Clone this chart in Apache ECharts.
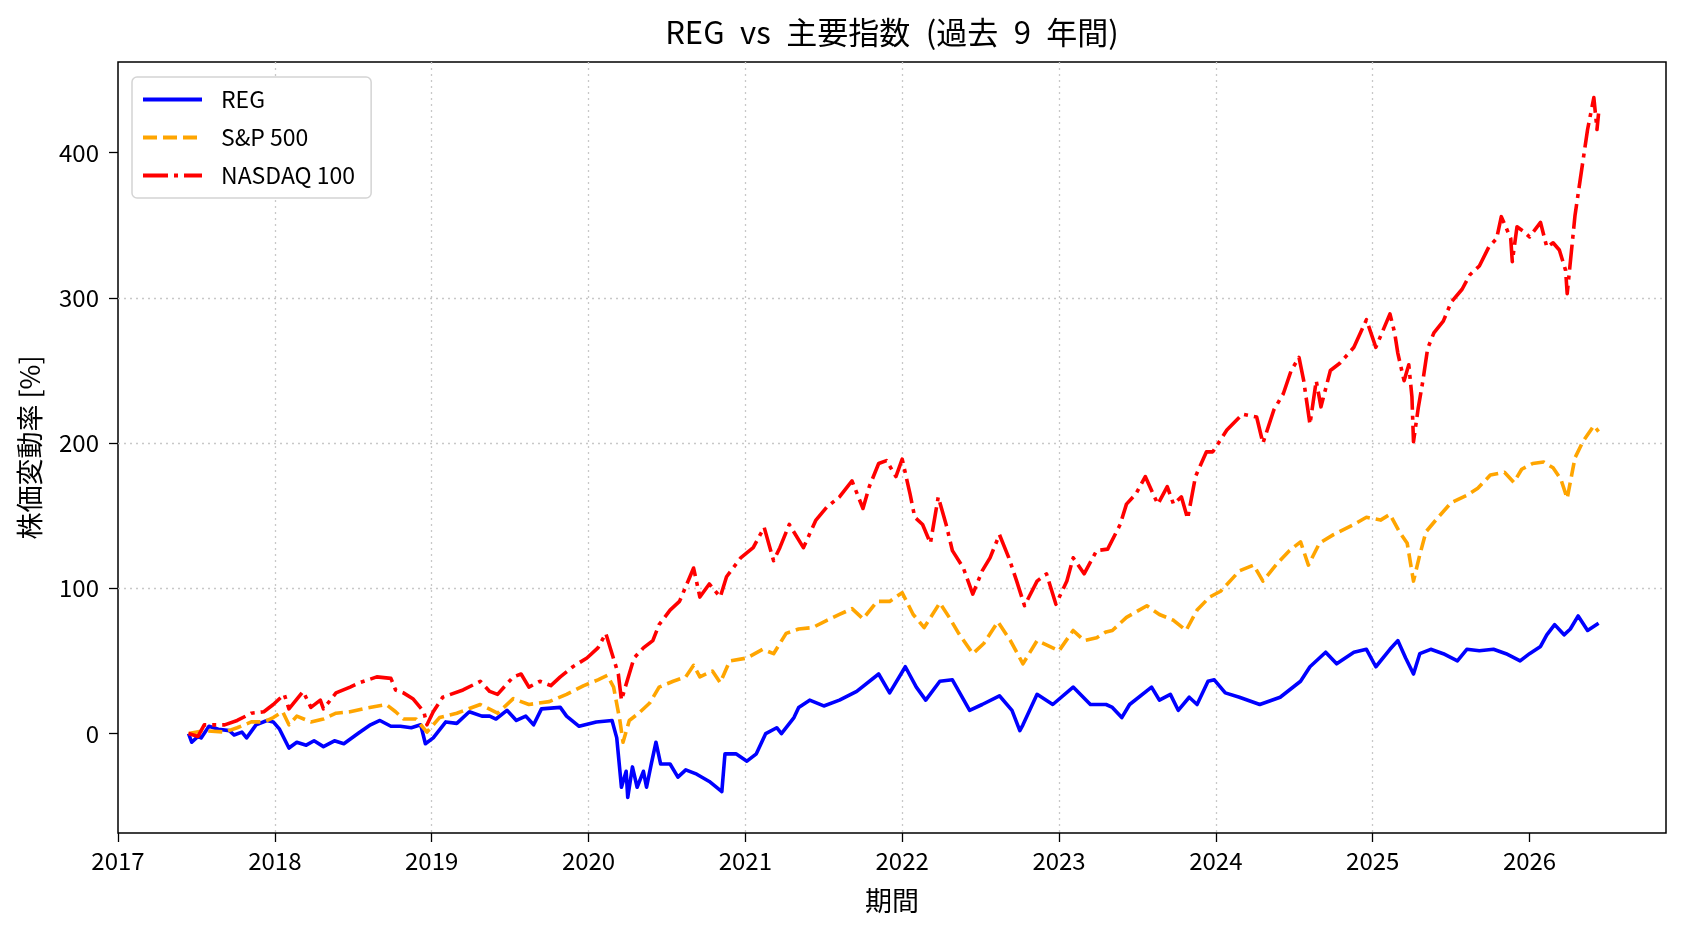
<!DOCTYPE html>
<html>
<head>
<meta charset="utf-8">
<script src="https://cdn.jsdelivr.net/npm/echarts@6/dist/echarts.min.js"></script>
<style>
  html, body { margin: 0; padding: 0; background: #fff; }
  #chart { width: 1688px; height: 932px; }
</style>
</head>
<body>
<div id="chart"></div>
<script>
var FONT = "'Noto Sans CJK JP', sans-serif";

// en-spaces so the spacing looks like the original half-width font
var titleText = 'REG\u2002vs\u2002主要指数\u2002(過去\u20029\u2002年間)';
var seriesNames = ['REG', 'S&P 500', 'NASDAQ 100'];
var yearTicks = [2017, 2018, 2019, 2020, 2021, 2022, 2023, 2024, 2025, 2026];
var pctTicks = [0, 100, 200, 300, 400];

// [year, % change]
var regPts = [
  [2017.45,0],[2017.47,-6],[2017.51,-2],[2017.53,-3],[2017.58,5],[2017.64,3],[2017.71,2],[2017.74,-1],
  [2017.79,1],[2017.82,-3],[2017.88,6],[2017.95,9],[2017.99,8],[2018.03,3],[2018.09,-10],[2018.14,-6],
  [2018.2,-8],[2018.25,-5],[2018.31,-9],[2018.38,-5],[2018.44,-7],[2018.53,0],[2018.61,6],[2018.67,9],
  [2018.74,5],[2018.8,5],[2018.87,4],[2018.93,6],[2018.96,-7],[2019.01,-3],[2019.09,8],[2019.16,7],
  [2019.24,15],[2019.32,12],[2019.37,12],[2019.41,10],[2019.48,16],[2019.54,9],[2019.6,12],[2019.65,6],
  [2019.7,17],[2019.82,18],[2019.86,12],[2019.94,5],[2020.05,8],[2020.15,9],[2020.18,-3],[2020.21,-37],
  [2020.24,-26],[2020.25,-44],[2020.28,-23],[2020.31,-37],[2020.35,-26],[2020.37,-37],[2020.4,-21],[2020.43,-6],
  [2020.46,-21],[2020.52,-21],[2020.57,-30],[2020.62,-25],[2020.69,-28],[2020.77,-33],[2020.85,-40],[2020.87,-14],
  [2020.94,-14],[2021.01,-19],[2021.07,-14],[2021.13,0],[2021.2,4],[2021.23,0],[2021.31,11],[2021.34,18],
  [2021.41,23],[2021.5,19],[2021.6,23],[2021.71,29],[2021.85,41],[2021.92,28],[2022.02,46],[2022.09,32],
  [2022.15,23],[2022.24,36],[2022.32,37],[2022.43,16],[2022.51,20],[2022.62,26],[2022.7,16],[2022.75,2],
  [2022.77,6],[2022.86,27],[2022.96,20],[2023.09,32],[2023.2,20],[2023.3,20],[2023.34,18],[2023.4,11],
  [2023.45,20],[2023.59,32],[2023.64,23],[2023.71,27],[2023.76,16],[2023.83,25],[2023.88,20],[2023.95,36],
  [2023.99,37],[2024.06,28],[2024.15,25],[2024.28,20],[2024.41,25],[2024.54,36],[2024.6,46],[2024.7,56],
  [2024.77,48],[2024.88,56],[2024.96,58],[2025.02,46],[2025.11,58],[2025.16,64],[2025.21,52],[2025.26,41],
  [2025.3,55],[2025.37,58],[2025.45,55],[2025.54,50],[2025.6,58],[2025.68,57],[2025.77,58],[2025.85,55],
  [2025.94,50],[2026.0,55],[2026.07,60],[2026.11,68],[2026.16,75],[2026.22,68],[2026.26,72],[2026.31,81],
  [2026.37,71],[2026.44,76]
];

var spPts = [
  [2017.45,0],[2017.55,2],[2017.68,1],[2017.76,4],[2017.85,8],[2017.93,8],[2017.99,11],[2018.05,15],
  [2018.09,6],[2018.14,12],[2018.23,8],[2018.31,10],[2018.39,14],[2018.48,15],[2018.56,17],[2018.71,20],
  [2018.77,15],[2018.82,10],[2018.9,10],[2018.97,1],[2019.05,11],[2019.16,14],[2019.31,20],[2019.42,14],
  [2019.52,24],[2019.62,20],[2019.75,22],[2019.86,27],[2019.97,33],[2020.06,37],[2020.12,40],[2020.16,32],
  [2020.2,9],[2020.22,-6],[2020.26,9],[2020.32,14],[2020.39,21],[2020.45,32],[2020.54,36],[2020.62,39],
  [2020.67,47],[2020.71,39],[2020.79,43],[2020.84,35],[2020.9,50],[2021.01,52],[2021.11,58],[2021.18,55],
  [2021.26,69],[2021.34,72],[2021.43,73],[2021.52,78],[2021.6,82],[2021.68,86],[2021.75,79],[2021.84,91],
  [2021.92,91],[2022.0,97],[2022.07,82],[2022.14,73],[2022.24,90],[2022.3,80],[2022.36,69],[2022.45,55],
  [2022.52,62],[2022.61,77],[2022.69,64],[2022.77,48],[2022.86,64],[2022.96,59],[2023.0,57],[2023.09,71],
  [2023.16,64],[2023.24,66],[2023.3,70],[2023.34,71],[2023.43,80],[2023.56,88],[2023.64,82],[2023.73,78],
  [2023.81,71],[2023.88,85],[2023.96,94],[2024.03,98],[2024.15,112],[2024.24,116],[2024.3,105],[2024.39,117],
  [2024.47,126],[2024.54,132],[2024.59,116],[2024.66,131],[2024.75,137],[2024.88,144],[2024.96,149],[2025.05,147],
  [2025.11,151],[2025.17,139],[2025.22,131],[2025.26,105],[2025.3,123],[2025.34,139],[2025.41,148],[2025.5,159],
  [2025.6,164],[2025.67,169],[2025.75,178],[2025.84,180],[2025.9,173],[2025.95,182],[2026.02,186],[2026.09,187],
  [2026.15,183],[2026.2,175],[2026.24,162],[2026.29,190],[2026.34,201],[2026.41,212],[2026.44,208]
];

var ndxPts = [
  [2017.45,0],[2017.51,-2],[2017.55,6],[2017.68,6],[2017.76,9],[2017.85,14],[2017.93,15],[2017.99,20],
  [2018.06,27],[2018.09,17],[2018.18,29],[2018.23,18],[2018.29,23],[2018.31,17],[2018.39,28],[2018.48,32],
  [2018.54,35],[2018.65,39],[2018.74,38],[2018.77,30],[2018.82,28],[2018.88,24],[2018.95,15],[2018.97,6],
  [2019.01,15],[2019.07,25],[2019.2,30],[2019.31,36],[2019.37,29],[2019.42,27],[2019.52,39],[2019.57,41],
  [2019.62,32],[2019.69,36],[2019.76,33],[2019.82,39],[2019.9,46],[2019.99,52],[2020.06,59],[2020.11,69],
  [2020.15,55],[2020.19,41],[2020.21,23],[2020.24,34],[2020.29,52],[2020.35,59],[2020.41,64],[2020.45,75],
  [2020.52,85],[2020.58,91],[2020.67,114],[2020.71,94],[2020.77,103],[2020.84,94],[2020.88,108],[2020.97,121],
  [2021.05,128],[2021.12,142],[2021.18,119],[2021.22,128],[2021.28,144],[2021.37,128],[2021.45,147],[2021.52,156],
  [2021.6,163],[2021.68,174],[2021.75,155],[2021.79,170],[2021.85,186],[2021.9,188],[2021.96,177],[2022.0,189],
  [2022.05,165],[2022.08,149],[2022.13,144],[2022.18,131],[2022.23,163],[2022.28,144],[2022.32,126],[2022.39,114],
  [2022.45,96],[2022.51,112],[2022.56,121],[2022.62,137],[2022.68,121],[2022.73,105],[2022.78,88],[2022.86,105],
  [2022.92,110],[2022.98,89],[2023.05,105],[2023.09,121],[2023.16,110],[2023.24,126],[2023.31,127],[2023.39,144],
  [2023.43,158],[2023.49,165],[2023.55,177],[2023.6,165],[2023.63,158],[2023.69,170],[2023.73,158],[2023.78,163],
  [2023.82,148],[2023.87,177],[2023.94,194],[2023.98,194],[2024.07,209],[2024.17,220],[2024.26,218],[2024.3,200],
  [2024.37,223],[2024.43,234],[2024.48,250],[2024.53,259],[2024.56,243],[2024.6,213],[2024.64,243],[2024.67,225],
  [2024.73,250],[2024.79,255],[2024.88,266],[2024.96,285],[2025.02,266],[2025.11,289],[2025.14,276],[2025.16,262],
  [2025.2,243],[2025.23,254],[2025.25,232],[2025.26,201],[2025.29,224],[2025.32,243],[2025.35,265],[2025.39,276],
  [2025.45,284],[2025.5,297],[2025.57,306],[2025.62,316],[2025.68,322],[2025.74,335],[2025.79,341],[2025.82,356],
  [2025.88,341],[2025.89,325],[2025.92,349],[2025.96,346],[2026.0,342],[2026.07,352],[2026.11,335],[2026.15,338],
  [2026.19,333],[2026.23,319],[2026.24,303],[2026.29,357],[2026.34,394],[2026.37,416],[2026.41,438],[2026.43,416],
  [2026.44,427]
];

var chart = echarts.init(document.getElementById('chart'), null, { renderer: 'canvas' });

function lineSeries(name, data, color, dash) {
    return {
        name: name, type: 'line', data: data, symbol: 'none', showSymbol: false,
        lineStyle: { color: color, width: 3.6, type: dash, join: 'round' },
        itemStyle: { color: color },
        emphasis: { disabled: true }, silent: true
    };
}

var gridLine = { color: '#c8c8c8', width: 1.3, type: [2, 4] };

chart.setOption({
    animation: false,
    textStyle: { fontFamily: FONT, color: '#000' },
    title: {
        text: titleText, left: 892, top: 17, textAlign: 'center', padding: 0,
        textStyle: { fontFamily: FONT, fontSize: 31, fontWeight: 'normal', color: '#000' }
    },
    legend: {
        orient: 'vertical', left: 132, top: 77,
        padding: [11, 16, 11, 9], itemGap: 15, itemWidth: 59, itemHeight: 14,
        backgroundColor: '#fff', borderColor: '#d4d4d4', borderWidth: 1.5, borderRadius: 5,
        itemStyle: { opacity: 0 },
        lineStyle: { width: 4 },
        textStyle: { fontFamily: FONT, fontSize: 23, color: '#000', padding: [0, 0, 0, 14] },
        data: seriesNames
    },
    grid: {
        left: 118, right: 22, top: 62, bottom: 99, containLabel: false,
        show: true, borderColor: '#000', borderWidth: 1.5, backgroundColor: 'transparent'
    },
    xAxis: {
        type: 'value', min: 2017, max: 2026.87, interval: 1, position: 'bottom',
        name: '期間', nameLocation: 'middle', nameGap: 54,
        nameTextStyle: { fontFamily: FONT, fontSize: 27, color: '#000' },
        axisLine: { show: false, onZero: false },
        axisTick: { show: true, inside: false, length: 9, customValues: yearTicks,
                    lineStyle: { color: '#000', width: 1.3 } },
        axisLabel: { margin: 16, fontFamily: FONT, fontSize: 24, color: '#000', customValues: yearTicks,
                     formatter: function (v) { return Math.abs(v - Math.round(v)) < 1e-6 ? String(Math.round(v)) : ''; } },
        splitLine: { show: true, showMinLine: false, showMaxLine: false, lineStyle: gridLine }
    },
    yAxis: {
        type: 'value', min: -68.5, max: 462.5, position: 'left',
        name: '株価変動率 [%]', nameLocation: 'middle', nameGap: 75, nameRotate: 90,
        nameTextStyle: { fontFamily: FONT, fontSize: 27, color: '#000' },
        axisLine: { show: false, onZero: false },
        axisTick: { show: true, inside: false, length: 9, customValues: pctTicks,
                    lineStyle: { color: '#000', width: 1.3 } },
        axisLabel: { margin: 19, fontFamily: FONT, fontSize: 24, color: '#000', customValues: pctTicks,
                     formatter: function (v) { return pctTicks.indexOf(v) >= 0 ? String(v) : ''; } },
        splitLine: { show: true, showMinLine: false, showMaxLine: false, lineStyle: gridLine }
    },
    series: [
        lineSeries(seriesNames[0], regPts, '#0000ff', 'solid'),
        lineSeries(seriesNames[1], spPts, '#ffa500', [14, 6]),
        lineSeries(seriesNames[2], ndxPts, '#ff0000', [25, 6, 4, 6])
    ]
});
</script>
</body>
</html>
